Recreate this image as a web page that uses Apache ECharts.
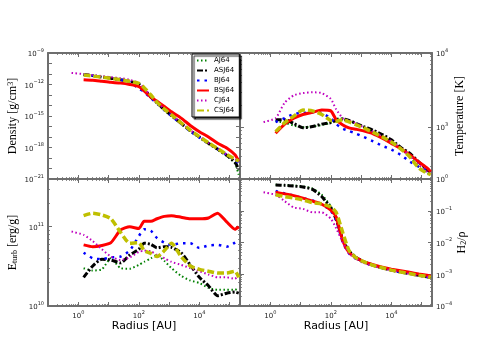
<!DOCTYPE html>
<html>
<head>
<meta charset="utf-8">
<script src="https://cdn.jsdelivr.net/npm/echarts@6/dist/echarts.min.js"></script>
<style>
    html, body { margin: 0; padding: 0; background: #fff; }
    #chart { width: 480px; height: 360px; }
</style>
</head>
<body>
<div id="chart"></div>
<script>
// radius grid [AU] used by most runs, CJ64 starts further in
var radius  = [1.5, 3, 6, 12, 25, 50, 100, 150, 250, 400, 700, 1200, 2500, 5000, 1e4, 2e4, 4e4, 8e4, 1.5e5, 2e5];
var radiusC = [0.6, 1.5, 3, 6, 12, 25, 50, 100, 150, 250, 400, 700, 1200, 2500, 5000, 1e4, 2e4, 4e4, 8e4, 1.5e5, 2e5];

var runs = ['AJ64', 'ASJ64', 'BJ64', 'BSJ64', 'CJ64', 'CSJ64'];

// density [g/cm^3]
var densityAJ  = [7.9e-12, 6.3e-12, 5.0e-12, 3.8e-12, 2.6e-12, 1.9e-12, 1.05e-12, 3.2e-13, 5.6e-14, 1.6e-14, 3.5e-15, 1.0e-15, 1.8e-16, 3.5e-17, 8.9e-18, 2.2e-18, 6.3e-19, 1.6e-19, 3.2e-20, 2.5e-21];
var densityASJ = [8.9e-12, 7.1e-12, 5.0e-12, 4.0e-12, 2.8e-12, 2.0e-12, 1.1e-12, 3.5e-13, 6.3e-14, 1.8e-14, 4.0e-15, 1.1e-15, 2.0e-16, 4.0e-17, 1.0e-17, 2.5e-18, 7.1e-19, 1.8e-19, 4.0e-20, 7.9e-21];
var densityBJ  = [8.9e-12, 7.1e-12, 5.2e-12, 4.0e-12, 2.8e-12, 1.8e-12, 4.0e-13, 2.0e-13, 5.0e-14, 1.6e-14, 3.5e-15, 1.0e-15, 1.8e-16, 3.5e-17, 8.9e-18, 2.5e-18, 7.1e-19, 2.0e-19, 6.3e-20, 3.2e-20];
var densityBSJ = [2.8e-12, 2.5e-12, 2.0e-12, 1.6e-12, 1.35e-12, 1.0e-12, 6.3e-13, 2.5e-13, 6.3e-14, 2.5e-14, 7.9e-15, 2.5e-15, 6.3e-16, 1.26e-16, 3.2e-17, 1.0e-17, 2.5e-18, 8.9e-19, 2.0e-19, 5.0e-20];
var densityCJ  = [1.26e-11, 1.0e-11, 7.9e-12, 6.3e-12, 5.0e-12, 4.0e-12, 2.8e-12, 1.4e-12, 4.5e-13, 7.9e-14, 2.0e-14, 4.5e-15, 1.26e-15, 2.2e-16, 4.5e-17, 1.1e-17, 2.8e-18, 7.9e-19, 2.2e-19, 7.9e-20, 4.0e-20];
var densityCSJ = [7.9e-12, 6.3e-12, 5.0e-12, 3.8e-12, 2.8e-12, 2.0e-12, 1.26e-12, 5.0e-13, 1.0e-13, 2.0e-14, 4.5e-15, 1.26e-15, 2.2e-16, 4.5e-17, 1.1e-17, 2.8e-18, 7.9e-19, 2.2e-19, 7.9e-20, 5.0e-20];

// temperature [K]
var tempAJ  = [1200, 1150, 1050, 1000, 1020, 1070, 1150, 1290, 1320, 1230, 1100, 1000, 850, 740, 630, 510, 405, 290, 240, 229];
var tempASJ = [1260, 1260, 1120, 980, 1020, 1100, 1150, 1230, 1290, 1230, 1120, 1020, 910, 795, 675, 535, 445, 340, 270, 240];
var tempBJ  = [1175, 1320, 1510, 1550, 1585, 1550, 1320, 1100, 955, 890, 815, 740, 645, 560, 500, 425, 345, 295, 263, 251];
var tempBSJ = [830, 1100, 1320, 1480, 1585, 1700, 1660, 1260, 1070, 980, 935, 890, 815, 710, 605, 515, 425, 340, 282, 251];
var tempCJ  = [1175, 1320, 2140, 2690, 2880, 2950, 2880, 2400, 1740, 1320, 1230, 1120, 1000, 870, 760, 645, 525, 415, 310, 251, 234];
var tempCSJ = [870, 1150, 1410, 1700, 1660, 1480, 1230, 1200, 1260, 1175, 1070, 980, 850, 740, 630, 515, 400, 282, 240, 229];

// turbulent energy [erg/g]
var eturbAJ  = [3.0e10, 2.8e10, 2.9e10, 4.0e10, 3.0e10, 2.95e10, 3.3e10, 3.6e10, 4.0e10, 4.4e10, 3.7e10, 3.0e10, 2.4e10, 2.1e10, 1.95e10, 1.7e10, 1.6e10, 1.6e10, 1.6e10, 1.7e10];
var eturbASJ = [2.3e10, 3.2e10, 3.9e10, 3.8e10, 3.5e10, 4.4e10, 5.2e10, 6.2e10, 6.0e10, 5.4e10, 5.6e10, 5.5e10, 4.7e10, 3.3e10, 2.3e10, 1.8e10, 1.35e10, 1.45e10, 1.5e10, 1.45e10];
var eturbBJ  = [4.7e10, 4.0e10, 3.9e10, 4.1e10, 4.2e10, 5.0e10, 7.6e10, 9.3e10, 8.9e10, 7.2e10, 6.3e10, 5.9e10, 6.2e10, 6.2e10, 5.4e10, 5.8e10, 5.9e10, 5.6e10, 6.3e10, 6.8e10];
var eturbBSJ = [5.9e10, 5.6e10, 5.8e10, 6.3e10, 9.1e10, 1.0e11, 9.5e10, 1.17e11, 1.17e11, 1.26e11, 1.35e11, 1.38e11, 1.32e11, 1.26e11, 1.26e11, 1.29e11, 1.48e11, 1.15e11, 9.3e10, 1.0e11];
var eturbCJ  = [8.7e10, 7.9e10, 6.6e10, 5.2e10, 4.2e10, 3.8e10, 4.1e10, 4.8e10, 5.0e10, 4.9e10, 4.4e10, 4.0e10, 3.6e10, 3.3e10, 3.0e10, 2.75e10, 2.5e10, 2.3e10, 2.3e10, 2.2e10, 2.5e10];
var eturbCSJ = [1.38e11, 1.48e11, 1.41e11, 1.26e11, 8.5e10, 6.2e10, 6.3e10, 5.0e10, 4.6e10, 4.2e10, 5.0e10, 6.2e10, 4.2e10, 3.2e10, 2.9e10, 2.75e10, 2.6e10, 2.6e10, 2.75e10, 2.3e10];

// H2 fraction
var h2AJ  = [0.66, 0.64, 0.62, 0.58, 0.50, 0.32, 0.14, 0.060, 0.013, 0.0056, 0.0034, 0.0026, 0.0020, 0.0016, 0.0014, 0.0012, 0.00107, 0.00095, 0.00085, 0.0008];
var h2ASJ = [0.65, 0.63, 0.60, 0.56, 0.47, 0.28, 0.12, 0.054, 0.012, 0.0054, 0.0033, 0.0025, 0.0019, 0.0016, 0.00135, 0.00117, 0.00105, 0.00093, 0.00083, 0.00079];
var h2BJ  = [0.42, 0.35, 0.30, 0.25, 0.21, 0.16, 0.10, 0.050, 0.010, 0.0045, 0.0030, 0.0024, 0.00186, 0.00158, 0.00135, 0.00117, 0.00105, 0.00093, 0.00083, 0.00078];
var h2BSJ = [0.38, 0.34, 0.30, 0.25, 0.20, 0.16, 0.105, 0.063, 0.0112, 0.0048, 0.0033, 0.0025, 0.0020, 0.00166, 0.00145, 0.00129, 0.00115, 0.00102, 0.00093, 0.00087];
var h2CJ  = [0.38, 0.32, 0.20, 0.126, 0.115, 0.089, 0.089, 0.056, 0.028, 0.010, 0.0045, 0.0030, 0.0023, 0.0018, 0.00155, 0.00132, 0.00115, 0.00102, 0.00091, 0.00083, 0.00079];
var h2CSJ = [0.32, 0.28, 0.25, 0.22, 0.18, 0.166, 0.132, 0.089, 0.020, 0.0056, 0.0032, 0.0025, 0.0019, 0.0016, 0.00135, 0.00117, 0.00105, 0.00093, 0.00085, 0.00079];

var panels = [
    [densityAJ, densityASJ, densityBJ, densityBSJ, densityCJ, densityCSJ],
    [tempAJ, tempASJ, tempBJ, tempBSJ, tempCJ, tempCSJ],
    [eturbAJ, eturbASJ, eturbBJ, eturbBSJ, eturbCJ, eturbCSJ],
    [h2AJ, h2ASJ, h2BJ, h2BSJ, h2CJ, h2CSJ]
];

// echarts rounds tiny numbers away on a log axis, so density is plotted in
// units of 1e-12 g/cm^3 and the tick labels shift the exponent back
var densityUnit = 1e-12;
var panelScale = [1 / densityUnit, 1, 1, 1];

var lineStyles = [
    { color: '#008000', width: 2,   type: [1.5, 2.5] },
    { color: '#000000', width: 3,   type: [6, 2, 2, 2] },
    { color: '#0000ff', width: 2.5, type: [2.5, 5] },
    { color: '#ff0000', width: 3,   type: 'solid' },
    { color: '#bf00bf', width: 2,   type: [1.5, 2.5] },
    { color: '#bfbf00', width: 3.5, type: [7, 3] }
];

var grids = [
    { left: 48,  top: 53,  width: 192, height: 126 },
    { left: 240, top: 53,  width: 192, height: 126 },
    { left: 48,  top: 179, width: 192, height: 127 },
    { left: 240, top: 179, width: 192, height: 127 }
];

var frame = '#6e6e6e';

function logLabel(step, shift) {
    shift = shift || 0;
    return function (v) {
        var e = Math.log10(v);
        var r = Math.round(e);
        if (Math.abs(e - r) > 1e-6) return '';
        r += shift;
        if (r % step !== 0) return '';
        return '{b|10}{sup|' + (r < 0 ? '\u2212' + (-r) : r) + '}';
    };
}
var labelRich = {
    b:   { fontSize: 7, fontFamily: 'DejaVu Sans', color: '#222', lineHeight: 10, verticalAlign: 'bottom' },
    sup: { fontSize: 5, fontFamily: 'DejaVu Sans', color: '#222', lineHeight: 5, verticalAlign: 'top' }
};

function baseAxis(g, pos, min, max, label, step, shift) {
    return {
        type: 'log', gridIndex: g, position: pos, min: min, max: max,
        axisLine: { show: true, onZero: false, lineStyle: { color: frame, width: 2 } },
        axisTick: { show: true, inside: true, length: 4, lineStyle: { color: frame, width: 1 } },
        minorTick: { show: true, splitNumber: 9, length: 2, lineStyle: { color: frame, width: 0.8 } },
        splitLine: { show: false },
        minorSplitLine: { show: false },
        axisLabel: label ? { show: true, margin: 4, formatter: logLabel(step, shift), rich: labelRich,
                             showMinLabel: true, showMaxLabel: true } : { show: false }
    };
}

var xAxis = [], yAxis = [];
for (var g = 0; g < 4; g++) {
    var bottom = baseAxis(g, 'bottom', 0.1, 2.2e5, g >= 2, 2);
    if (g >= 2) {
        bottom.name = 'Radius [AU]';
        bottom.nameLocation = 'middle';
        bottom.nameGap = 13;
        bottom.nameTextStyle = { fontSize: 11, fontFamily: 'DejaVu Sans', color: '#000' };
    }
    xAxis.push(bottom, baseAxis(g, 'top', 0.1, 2.2e5, false, 2));
}

var serifName = { fontSize: 12, fontFamily: 'Liberation Serif', color: '#000',
    rich: {
        sup: { fontSize: 8, fontFamily: 'Liberation Serif', verticalAlign: 'top', lineHeight: 8 },
        sub: { fontSize: 8, fontFamily: 'Liberation Serif', verticalAlign: 'bottom', lineHeight: 8 }
    } };

// density 1e-21 .. 1e-9 g/cm^3, labels every third decade
var d0 = baseAxis(0, 'left', 1e-21 / densityUnit, 1e-9 / densityUnit, true, 3, -12);
d0.interval = 1; d0.minorTick.show = false;
d0.name = 'Density [g/cm{sup|3}]'; d0.nameLocation = 'middle'; d0.nameRotate = 90; d0.nameGap = 29; d0.nameTextStyle = serifName;
var d1 = baseAxis(0, 'right', 1e-21 / densityUnit, 1e-9 / densityUnit, false, 3);
d1.interval = 1; d1.minorTick.show = false;
// temperature
var t0 = baseAxis(1, 'left', 200, 1e4, false, 1);
var t1 = baseAxis(1, 'right', 200, 1e4, true, 1);
t1.name = 'Temperature [K]'; t1.nameLocation = 'middle'; t1.nameRotate = 90; t1.nameGap = 22; t1.nameTextStyle = serifName;
// turbulent energy
var e0 = baseAxis(2, 'left', 1e10, 4e11, true, 1);
e0.name = 'E{sub|turb} [erg/g]'; e0.nameLocation = 'middle'; e0.nameRotate = 90; e0.nameGap = 29; e0.nameTextStyle = serifName;
var e1 = baseAxis(2, 'right', 1e10, 4e11, false, 1);
// H2
var h0 = baseAxis(3, 'left', 1e-4, 1, false, 1);
var h1 = baseAxis(3, 'right', 1e-4, 1, true, 1);
h1.name = 'H{sub|2}/\u03c1'; h1.nameLocation = 'middle'; h1.nameRotate = 90; h1.nameGap = 22; h1.nameTextStyle = serifName;
yAxis.push(d0, d1, t0, t1, e0, e1, h0, h1);

var series = [];
panels.forEach(function (sets, g) {
    sets.forEach(function (vals, k) {
        var xs = runs[k] === 'CJ64' ? radiusC : radius;
        series.push({
            name: runs[k], type: 'line',
            xAxisIndex: 2 * g, yAxisIndex: 2 * g,
            data: xs.map(function (x, i) { return [x, vals[i] * panelScale[g]]; }),
            symbol: 'none', smooth: 0.2, silent: true,
            lineStyle: lineStyles[k], itemStyle: { color: lineStyles[k].color },
            emphasis: { disabled: true }
        });
    });
});

var chart = echarts.init(document.getElementById('chart'), null, { renderer: 'canvas' });
chart.setOption({
    animation: false,
    backgroundColor: '#fff',
    grid: grids,
    xAxis: xAxis,
    yAxis: yAxis,
    legend: {
        data: runs, orient: 'vertical', left: 192, top: 54,
        itemWidth: 12, itemHeight: 6, itemGap: 3,
        padding: [3, 5, 3, 4],
        backgroundColor: '#fff', borderColor: '#000', borderWidth: 1,
        shadowColor: 'rgba(0,0,0,0.85)', shadowOffsetX: 2, shadowOffsetY: 2, shadowBlur: 1,
        itemStyle: { opacity: 0 },
        textStyle: { fontSize: 7, fontFamily: 'DejaVu Sans', color: '#000' },
        selectedMode: false
    },
    series: series
});
</script>
</body>
</html>
